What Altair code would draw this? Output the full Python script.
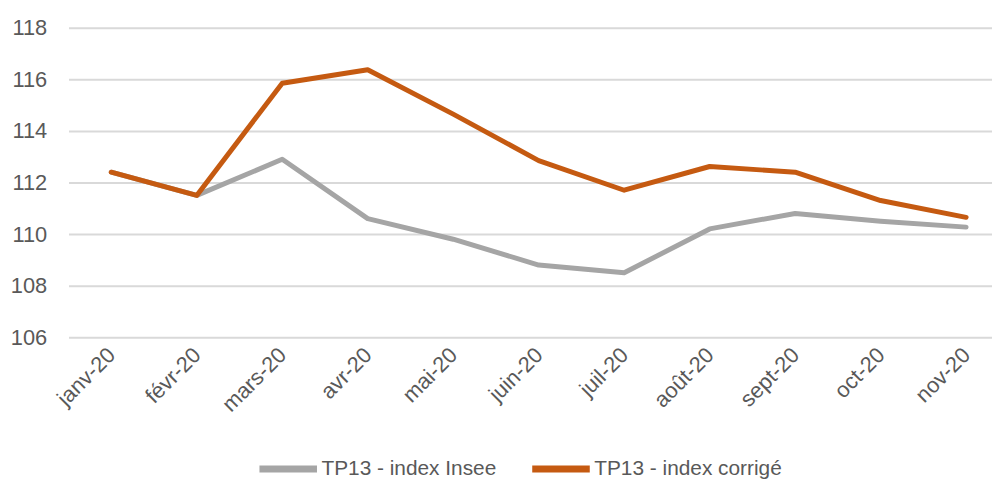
import altair as alt
import pandas as pd

months = ["janv-20", "févr-20", "mars-20", "avr-20", "mai-20", "juin-20",
          "juil-20", "août-20", "sept-20", "oct-20", "nov-20"]
insee = [112.4, 111.5, 112.9, 110.6, 109.8, 108.8, 108.5, 110.2, 110.8, 110.5, 110.27]
corrige = [112.4, 111.5, 115.85, 116.37, 114.65, 112.85, 111.7, 112.62, 112.4, 111.3, 110.65]
series = ["TP13 - index Insee", "TP13 - index corrigé"]
colors = ["#a5a5a5", "#c55a11"]
y_ticks = [106, 108, 110, 112, 114, 116, 118]

rows = []
for k, (name, vals) in enumerate(zip(series, [insee, corrige])):
    for i, (m, v) in enumerate(zip(months, vals)):
        rows.append({"idx": i, "mois": m, "valeur": v, "serie": name, "ordre": k})
df = pd.DataFrame(rows)

FONT = "Liberation Sans, Arial, sans-serif"
label_expr = "[" + ",".join("'" + m + "'" for m in months) + "][datum.value]"

n = len(months)
plot_w = 931
step = 948 / n
x_max = -0.5 + plot_w / step

chart = alt.Chart(df).mark_line(strokeWidth=5, strokeCap="round", strokeJoin="round").encode(
    x=alt.X("idx:Q",
            scale=alt.Scale(domain=[-0.5, x_max], nice=False, zero=False),
            axis=alt.Axis(title=None, values=list(range(n)), labelExpr=label_expr,
                          labelAngle=-45, labelAlign="right", labelBaseline="middle",
                          labelPadding=14, ticks=False, domain=False, grid=False,
                          labelFontSize=22, labelColor="#595959", labelFont=FONT,
                          labelOverlap=False, labelFlush=False)),
    y=alt.Y("valeur:Q", scale=alt.Scale(domain=[106, 118], nice=False, zero=False),
            axis=alt.Axis(title=None, values=y_ticks, ticks=False,
                          domain=False, labelPadding=22, labelFontSize=22, labelColor="#595959",
                          labelFont=FONT, gridColor="#d9d9d9", gridWidth=2)),
    color=alt.Color("serie:N", sort=series,
                    scale=alt.Scale(domain=series, range=colors),
                    legend=alt.Legend(title=None, orient="none", direction="horizontal",
                                      legendX=189, legendY=412, symbolType="stroke",
                                      symbolSize=3364, symbolStrokeWidth=7, labelFontSize=21,
                                      labelColor="#595959", labelFont=FONT, columnPadding=21,
                                      labelOffset=1, padding=0, labelLimit=500)),
    order="ordre:Q",
).properties(
    width=plot_w, height=312,
    autosize=alt.AutoSizeParams(type="none"),
    padding={"left": 61, "top": 18, "right": 0, "bottom": 141},
).configure_view(stroke=None)

chart.save("out.html", embed_options={"renderer": "svg", "actions": False})
